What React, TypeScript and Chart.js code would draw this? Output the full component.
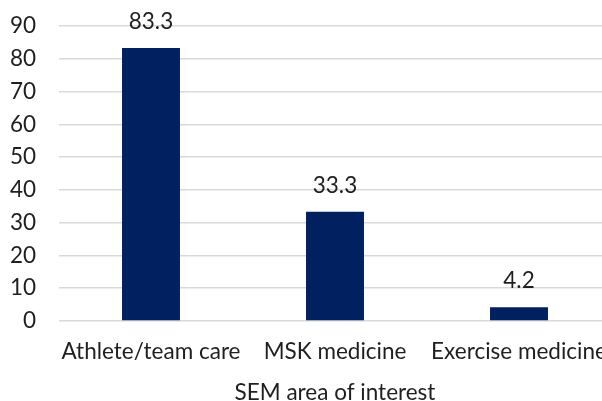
import React, { useEffect, useRef } from "react";
import { Chart, registerables } from "chart.js";

Chart.register(...registerables);

const categories = ["Athlete/team care", "MSK medicine", "Exercise medicine"];
const values = [83.3, 33.3, 4.2];
const valueLabels = ["83.3", "33.3", "4.2"];
const yTicks = [0, 10, 20, 30, 40, 50, 60, 70, 80, 90];
const axisTitle = "SEM area of interest";

const FONT = "Lato, 'Open Sans', sans-serif";
const TEXT = "#1f1f1f";
const FS = 22.5;

const valueLabelPlugin = {
  id: "valueLabels",
  afterDatasetsDraw(chart: any) {
    const ctx = chart.ctx;
    const meta = chart.getDatasetMeta(0);
    ctx.save();
    ctx.font = `${FS}px ${FONT}`;
    ctx.fillStyle = TEXT;
    ctx.textAlign = "center";
    ctx.textBaseline = "bottom";
    meta.data.forEach((bar: any, i: number) => {
      ctx.fillText(valueLabels[i], bar.x, bar.y - 15);
    });
    ctx.restore();
  },
};

export default function App() {
  const ref = useRef<HTMLCanvasElement | null>(null);
  useEffect(() => {
    if (!ref.current) return;
    const chart = new Chart(ref.current, {
      type: "bar",
      data: {
        labels: categories,
        datasets: [
          {
            data: values,
            backgroundColor: "#002060",
            categoryPercentage: 1,
            barPercentage: 0.315,
          },
        ],
      },
      options: {
        animation: false,
        responsive: false,
        maintainAspectRatio: false,
        devicePixelRatio: 1,
        layout: { padding: { top: 26, right: 4, left: 0, bottom: 0 } },
        plugins: { legend: { display: false }, tooltip: { enabled: false } },
        scales: {
          x: {
            grid: { display: false },
            border: { display: false },
            afterFit: (axis: any) => {
              axis.height = 80;
              axis.paddingLeft = 0;
              axis.paddingRight = 0;
            },
            ticks: {
              color: TEXT,
              font: { family: FONT, size: FS },
              padding: 9,
              maxRotation: 0,
              autoSkip: false,
            },
            title: {
              display: true,
              text: axisTitle,
              color: TEXT,
              font: { family: FONT, size: FS, lineHeight: 1 },
              padding: { top: 4, bottom: -3 },
            },
          },
          y: {
            min: 0,
            max: 90,
            afterBuildTicks: (axis: any) => {
              axis.ticks = yTicks.map((v) => ({ value: v }));
            },
            afterFit: (axis: any) => {
              axis.width = 59;
              axis.paddingTop = 0;
              axis.paddingBottom = 0;
            },
            grid: { color: "#d9d9d9", lineWidth: 1.5, drawTicks: false },
            border: { display: false },
            ticks: {
              color: TEXT,
              font: { family: FONT, size: FS },
              padding: 23,
            },
          },
        },
      },
      plugins: [valueLabelPlugin],
    });
    return () => chart.destroy();
  }, []);
  return (
    <div
      style={{
        position: "fixed",
        left: 0,
        top: 0,
        width: 602,
        height: 401,
        overflow: "hidden",
        background: "#fff",
      }}
    >
      <canvas
        ref={ref}
        width={615}
        height={401}
        style={{ display: "block", width: 615, height: 401 }}
      />
    </div>
  );
}
